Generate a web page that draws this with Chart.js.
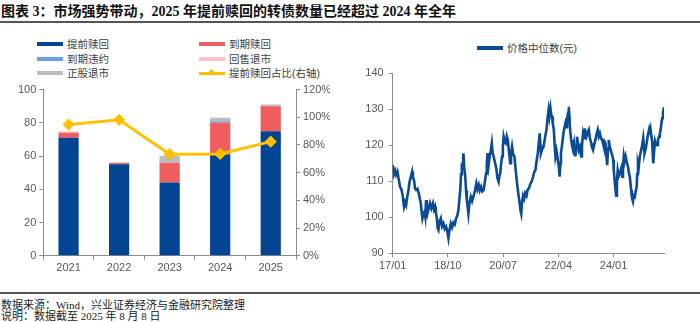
<!DOCTYPE html>
<html>
<head>
<meta charset="utf-8">
<script src="https://cdn.jsdelivr.net/npm/chart.js@4/dist/chart.umd.min.js"></script>
<style>
  body { margin: 0; background: #fff; }
  #page { position: relative; width: 700px; height: 322px; overflow: hidden; font-family: "Liberation Sans", "Noto Sans CJK SC", sans-serif; }
  #title { position: absolute; left: 1px; top: 0px; font-family: "Liberation Serif", "Noto Sans CJK SC", serif; font-weight: bold; font-size: 14px; color: #111; white-space: nowrap; }
  .rule { position: absolute; left: 0; width: 700px; background: #555; }
  .note { position: absolute; left: 1px; font-family: "Liberation Serif", "Noto Sans CJK SC", serif; font-size: 11px; color: #222; white-space: nowrap; }
  .leg { position: absolute; font-size: 10.5px; color: #404040; white-space: nowrap; height: 14px; line-height: 14px; }
  .leg .sw { position: absolute; left: 0; top: 5px; width: 26px; height: 4px; }
  .leg .tx { position: absolute; left: 30px; top: 0; }
  .leg .dia { position: absolute; left: 10px; top: 4px; width: 5px; height: 5px; transform: rotate(45deg); }
  canvas { position: absolute; }
</style>
</head>
<body>
<div id="page">
  <div id="title">图表 3：市场强势带动，2025 年提前赎回的转债数量已经超过 2024 年全年</div>
  <div class="rule" style="top:21px;height:2px;"></div>
  <div id="legendLeft"></div>
  <div class="leg" style="left:477px;top:41px;"><span class="sw" style="background:#0a4b94;width:26px;"></span><span class="tx">价格中位数(元)</span></div>
  <div style="position:absolute;left:0;top:80px;width:330px;height:200px;"><canvas id="leftChart" width="330" height="200"></canvas></div>
  <div style="position:absolute;left:330px;top:60px;width:370px;height:220px;"><canvas id="rightChart" width="370" height="220"></canvas></div>
  <div class="rule" style="top:292px;height:1.5px;"></div>
  <div class="note" style="top:296px;">数据来源：Wind，兴业证券经济与金融研究院整理</div>
  <div class="note" style="top:307px;">说明：数据截至 2025 年 8 月 8 日</div>
</div>
<script>
// 左图：各年份退出方式（只）
const years = ['2021', '2022', '2023', '2024', '2025'];
const earlyRedeem = [71, 55, 44, 61, 75];      // 提前赎回
const maturityRedeem = [3, 1, 12, 19, 15];     // 到期赎回
const maturityDefault = [0, 0, 0, 1, 0];       // 到期违约
const putDelist = [1, 0, 0, 0, 0];             // 回售退市
const stockDelist = [0, 0, 4, 2, 1];           // 正股退市
const earlyShare = [94.7, 98.2, 73.3, 73.5, 82.4]; // 提前赎回占比(%)

// 右图：价格中位数，横轴为自 2017/01 起的月份
const priceMonths = [0, 0.45, 0.9, 1.3, 1.8, 2.3, 2.8, 3.3, 3.8, 4.3, 4.7, 5.1, 5.5, 6.0, 6.4, 6.9, 7.4, 7.7, 8.1, 8.5,
  8.9, 9.4, 9.9, 10.3, 10.7, 11.0, 11.3, 11.7, 12.1, 12.4, 12.7, 13.0, 13.2, 13.7, 14.2, 14.7, 15.3, 15.7, 16.1, 16.4,
  16.8, 17.1, 17.4, 17.8, 18.3, 18.8, 19.3, 19.8, 20.3, 20.8, 21.2, 21.6, 22.1, 22.6, 23.1, 23.6, 24.1, 24.6, 25.0, 25.3,
  25.7, 26.0, 26.3, 26.6, 26.9, 27.2, 27.6, 27.9, 28.2, 28.5, 28.8, 29.2, 29.7, 30.2, 30.8, 31.3, 31.8, 32.2, 32.7, 33.1,
  33.6, 34.1, 34.6, 35.0, 35.5, 35.8, 36.1, 36.5, 36.9, 37.3, 37.7, 38.0, 38.4, 38.9, 39.4, 39.8, 40.3, 40.6, 40.9, 41.2,
  41.6, 41.9, 42.2, 42.6, 43.0, 43.4, 43.8, 44.2, 44.7, 45.0, 45.4, 45.8, 46.3, 46.8, 47.3, 47.8, 48.3, 48.6, 48.9, 49.2,
  49.6, 50.0, 50.4, 50.9, 51.3, 51.8, 52.4, 52.9, 53.4, 53.8, 54.3, 54.7, 55.2, 55.6, 55.9, 56.2, 56.4, 56.9, 57.4, 57.9,
  58.5, 58.9, 59.3, 59.6, 60.0, 60.3, 60.6, 60.9, 61.3, 61.6, 61.9, 62.3, 62.8, 63.2, 63.5, 63.8, 64.0, 64.4, 64.8, 65.2,
  65.7, 66.0, 66.3, 66.7, 67.0, 67.2, 67.3, 67.6, 67.9, 68.2, 68.6, 69.0, 69.5, 69.8, 70.1, 70.4, 70.8, 71.2, 71.7, 72.0,
  72.4, 72.8, 73.1, 73.4, 73.7, 74.1, 74.6, 75.0, 75.5, 75.8, 76.2, 76.6, 77.1, 77.5, 78.0, 78.4, 78.8, 79.2, 79.7, 80.0,
  80.3, 80.6, 80.9, 81.3, 81.6, 81.9, 82.2, 82.5, 82.9, 83.4, 83.9, 84.1, 84.4, 84.7, 85.0, 85.3, 85.6, 86.0, 86.4, 86.9,
  87.3, 87.6, 87.9, 88.2, 88.6, 89.0, 89.5, 89.8, 90.2, 90.5, 90.7, 91.0, 91.4, 91.7, 92.1, 92.4, 92.8, 93.0, 93.3, 93.6,
  94.0, 94.3, 94.7, 95.0, 95.3, 95.6, 95.8, 96.2, 96.6, 97.0, 97.5, 97.8, 98.1, 98.4, 98.7, 98.9, 99.1, 99.4, 99.8, 100.2,
  100.6, 100.9, 101.3, 101.6, 101.9, 102.2, 102.5, 102.8, 103.2];
const priceValues = [114.5, 112.0, 113, 111.8, 112.7, 110.5, 108.5, 107.8, 106, 103, 104.2, 103.4, 105.5, 107.6, 109.8, 111.3, 112.7, 111.0, 110.4, 108.0,
  107.6, 107.9, 106.7, 105.2, 103.9, 101.5, 99.7, 101.0, 101.6, 100.2, 104.8, 102.0, 101, 102.5, 103.9, 102.5, 103.9, 102.2, 103, 101.5,
  99.7, 97.0, 96.5, 98.8, 99.7, 97.5, 98.3, 96.8, 97.4, 96.0, 94.2, 96.5, 98.3, 97.2, 98.5, 98.0, 99.7, 100.5, 102, 104.5,
  107.6, 112, 115, 113.5, 117.8, 114.0, 111.3, 107.5, 104.8, 103.0, 101, 104.0, 105.7, 104.5, 106, 107.5, 109.4, 107.8, 109, 107.5,
  108.5, 107.2, 107.6, 109.5, 112.2, 115.0, 117.8, 114.5, 116.9, 118.5, 120.6, 118.0, 116.9, 115.2, 113.6, 111.0, 109.9, 111.5, 112.2, 114.5,
  116.9, 119.5, 122.4, 121.0, 120.6, 122.5, 121.5, 118.5, 115, 117.5, 119.6, 117.5, 116.9, 113.0, 109.4, 106.5, 103.9, 102.0, 101, 104.0,
  106, 105.2, 106.7, 106.0, 107.6, 108.0, 109.4, 110.0, 111.3, 112.5, 113.1, 115.5, 117.8, 121.0, 123.3, 120.0, 117.8, 119.0, 119.6, 122.0,
  124.3, 127.5, 129.8, 128.0, 130.3, 128.5, 128, 126.0, 124.3, 120.0, 116.9, 118.5, 116, 114.0, 111.3, 115.0, 117.8, 120.0, 122.4, 124.5,
  126.1, 125.0, 127, 129.0, 130.7, 128.0, 126.1, 123.5, 121.5, 120.0, 118.7, 120.5, 116.9, 119.5, 122.4, 121.0, 118.7, 119.5, 116.9, 120.0,
  123.3, 122.0, 124.7, 123.0, 122.4, 123.5, 124.3, 122.0, 120.6, 119.5, 118.7, 120.0, 121.5, 123.0, 124.3, 122.5, 123.3, 122.0, 121.5, 120.5,
  119.6, 121.0, 120.6, 117.0, 114.5, 119.0, 121.5, 120.0, 118.7, 117.5, 116, 113.0, 110.4, 108.0, 106, 110.0, 113.1, 111.5, 112.2, 113.5,
  111.3, 114.0, 116.9, 115.5, 116.9, 115.5, 114.1, 112.5, 111.3, 109.0, 107.6, 105.5, 104.4, 106.0, 105.7, 107.0, 108.5, 112.0, 115, 114.0,
  116.9, 118.0, 119.2, 120.5, 122, 119.5, 117.8, 119.0, 120.6, 122.5, 124.3, 123.0, 124.3, 122.5, 121.1, 118.0, 115, 118.0, 121.1, 120.0,
  120.1, 121.5, 122.4, 123.0, 124.3, 126.0, 127.5, 129.0, 130.6];
const dateTicks = [0, 21, 42, 63, 84];
const dateLabels = ['17/01', '18/10', '20/07', '22/04', '24/01'];

const axisColor = '#8c8c8c';
const tickFont = { family: '"Liberation Sans", Arial, sans-serif', size: 11 };
const tickColor = '#595959';

const seriesLeft = [
  { name: '提前赎回', data: earlyRedeem, color: '#034592' },
  { name: '到期赎回', data: maturityRedeem, color: '#ef5d5f' },
  { name: '到期违约', data: maturityDefault, color: '#6a9fe0' },
  { name: '回售退市', data: putDelist, color: '#ffbfca' },
  { name: '正股退市', data: stockDelist, color: '#bdbdbd' }
];
const lineColor = '#ffc000';

// 左侧图例（两列）
const legendOrder = [
  { name: '提前赎回', color: '#034592' }, { name: '到期赎回', color: '#ef5d5f' },
  { name: '到期违约', color: '#6a9fe0' }, { name: '回售退市', color: '#ffbfca' },
  { name: '正股退市', color: '#bdbdbd' }, { name: '提前赎回占比(右轴)', color: lineColor, line: true }
];
const legendBox = document.getElementById('legendLeft');
legendOrder.forEach(function (item, i) {
  const el = document.createElement('div');
  el.className = 'leg';
  el.style.left = (i % 2 === 0 ? 37 : 199) + 'px';
  el.style.top = (37 + Math.floor(i / 2) * 14.5) + 'px';
  let html = '<span class="sw" style="background:' + item.color + ';' + (item.line ? 'height:3px;top:5.5px;' : '') + '"></span>';
  if (item.line) html += '<span class="dia" style="background:' + item.color + ';"></span>';
  html += '<span class="tx">' + item.name + '</span>';
  el.innerHTML = html;
  legendBox.appendChild(el);
});

const leftDatasets = seriesLeft.map(function (s) {
  return {
    type: 'bar', label: s.name, data: s.data, backgroundColor: s.color,
    stack: 'exit', yAxisID: 'y', order: 2,
    categoryPercentage: 1, barPercentage: 0.4
  };
});
leftDatasets.push({
  type: 'line', label: '提前赎回占比(右轴)', data: earlyShare, yAxisID: 'y1', order: 1,
  borderColor: lineColor, backgroundColor: lineColor, borderWidth: 3,
  pointStyle: 'rectRot', pointRadius: 4, pointHoverRadius: 4
});

new Chart(document.getElementById('leftChart'), {
  data: { labels: years, datasets: leftDatasets },
  options: {
    responsive: false, animation: false,
    layout: { padding: { top: 8, bottom: 0, left: 0, right: 0 } },
    plugins: { legend: { display: false }, tooltip: { enabled: false } },
    scales: {
      x: {
        stacked: true,
        grid: { display: true, drawOnChartArea: false, color: axisColor, tickLength: 4, offset: true },
        border: { color: axisColor, width: 1 },
        ticks: { font: tickFont, color: tickColor, padding: 2 },
        afterFit: function (s) { s.height = 24.3; }
      },
      y: {
        stacked: true, min: 0, max: 100,
        grid: { drawOnChartArea: false, color: axisColor, tickLength: 4 },
        border: { color: axisColor, width: 1 },
        ticks: { stepSize: 20, font: tickFont, color: tickColor, padding: 3 },
        afterFit: function (s) { s.width = 43.3; }
      },
      y1: {
        position: 'right', min: 0, max: 120,
        grid: { drawOnChartArea: false, color: axisColor, tickLength: 4 },
        border: { color: axisColor, width: 1 },
        ticks: { stepSize: 20, font: tickFont, color: tickColor, padding: 3, callback: function (v) { return v + '%'; } },
        afterFit: function (s) { s.width = 34; }
      }
    }
  }
});

new Chart(document.getElementById('rightChart'), {
  type: 'line',
  data: {
    datasets: [{
      label: '价格中位数(元)',
      data: priceMonths.map(function (m, i) { return { x: m, y: priceValues[i] }; }),
      borderColor: '#0a4b94', borderWidth: 2.6, pointRadius: 0, tension: 0
    }]
  },
  options: {
    responsive: false, animation: false,
    layout: { padding: { top: 13.3, right: 36, left: 0, bottom: 0 } },
    plugins: { legend: { display: false }, tooltip: { enabled: false } },
    scales: {
      x: {
        type: 'linear', min: 0, max: priceMonths[priceMonths.length - 1],
        afterBuildTicks: function (s) { s.ticks = dateTicks.map(function (v) { return { value: v }; }); },
        grid: { drawOnChartArea: false, color: axisColor, tickLength: 4 },
        border: { color: axisColor, width: 1 },
        ticks: {
          font: tickFont, color: tickColor, padding: 2, maxRotation: 0, autoSkip: false,
          callback: function (v) { return dateLabels[dateTicks.indexOf(v)]; }
        },
        afterFit: function (s) { s.height = 26.7; }
      },
      y: {
        min: 90, max: 140,
        grid: { drawOnChartArea: false, color: axisColor, tickLength: 4 },
        border: { color: axisColor, width: 1 },
        ticks: { stepSize: 10, font: tickFont, color: tickColor, padding: 5 },
        afterFit: function (s) { s.width = 62.7; }
      }
    }
  }
});
</script>
</body>
</html>
